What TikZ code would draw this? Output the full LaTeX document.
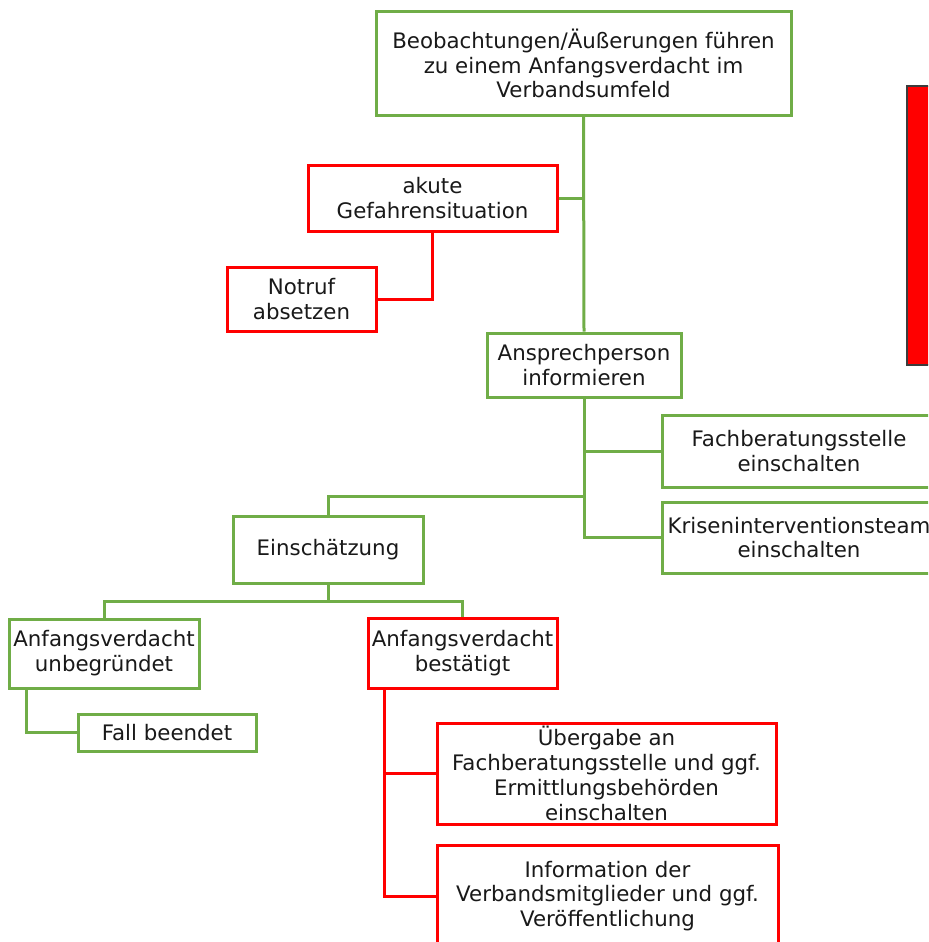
\documentclass[tikz,border=0pt]{standalone}
\usepackage{fontspec}
\setmainfont{DejaVu Sans}
\definecolor{mygreen}{RGB}{112,173,71}
\definecolor{myred}{RGB}{255,0,0}
\definecolor{myborder}{RGB}{60,60,60}
\usetikzlibrary{calc,positioning}

\begin{document}
\begin{tikzpicture}[
  x=0.75pt, y=-0.75pt,
  line width=2.25pt,
  boxsize/.style 2 args={
    minimum width=#1*0.75pt,
    minimum height=#2*0.75pt
    },
  mybox/.style={
    draw,
    fill=white,
    align=center,
    inner sep=0pt,
    text=black!90,
    font=\fontsize{16}{18.6}\selectfont
    },
  greenbox/.style={mybox, draw=mygreen},
  redbox/.style={mybox, draw=myred},
  alarmbox/.style={draw=myborder, fill=myred, line width=1.5pt},
  greenline/.style={draw=mygreen},
  redline/.style={draw=myred}
]

\path[use as bounding box, clip] (0,0) rectangle (928,942);

\node[greenbox, boxsize={415}{103}] (verdacht) at (583.5,63.5)
  {Beobachtungen/Äußerungen führen\\zu einem Anfangsverdacht im\\Verbandsumfeld};
\node[redbox, boxsize={249}{66}] (gefahr) at (432.5,198) {akute\\Gefahrensituation};
\node[redbox, boxsize={149}{64}] (notruf) at (301.5,299) {Notruf\\absetzen};
\node[greenbox, boxsize={194}{64}] (ansprech) at (584,365) {Ansprechperson\\informieren};
\node[greenbox, boxsize={274}{72}] (fachstelle) at (799,451) {Fachberatungsstelle\\einschalten};
\node[greenbox, boxsize={274}{71}] (krisen) at (799,537.5) {Kriseninterventionsteam\\einschalten};
\node[greenbox, boxsize={190}{67}] (einsch) at (328,549.5) {Einschätzung};
\node[greenbox, boxsize={190}{69}] (unbegr) at (104,653.5) {Anfangsverdacht\\unbegründet};
\node[greenbox, boxsize={178}{37}] (beendet) at (167,732.5) {Fall beendet};
\node[redbox, boxsize={189}{70}] (bestaet) at (462.5,653) {Anfangsverdacht\\bestätigt};
\node[redbox, boxsize={339}{101}] (uebergabe) at (606.5,773.5)
  {Übergabe an\\Fachberatungsstelle und ggf.\\Ermittlungsbehörden\\einschalten};
\node[redbox, boxsize={341}{102}] (info) at (607.5,896)
  {Information der\\Verbandsmitglieder und ggf.\\Veröffentlichung};
\node[alarmbox, boxsize={40}{279}] (hinweis) at (927,225.5) {};

% Verbindungen
\draw[greenline] (verdacht.south) -- (ansprech.north);
\draw[greenline] (gefahr.east) -| (verdacht.south);
\draw[redline] (gefahr.south) |- (notruf.east);

\coordinate (split1) at (ansprech.south |- 0,496);
\draw[greenline] (ansprech.south) |- (krisen.west);
\draw[greenline] (ansprech.south) |- (fachstelle.west);
\draw[greenline] (split1) -| (einsch.north);

\coordinate (split2) at ($(einsch.south)+(0,17)$);
\draw[greenline] (einsch.south) -- (split2);
\draw[greenline] (unbegr.north) |- (split2) -| (bestaet.north);
\draw[greenline] ($(unbegr.south west)+(19,0)$) |- (beendet.west);

\draw[redline] ($(bestaet.south west)+(18,0)$) |- (uebergabe.west);
\draw[redline] ($(bestaet.south west)+(18,0)$) |- (info.west);

\end{tikzpicture}
\end{document}
